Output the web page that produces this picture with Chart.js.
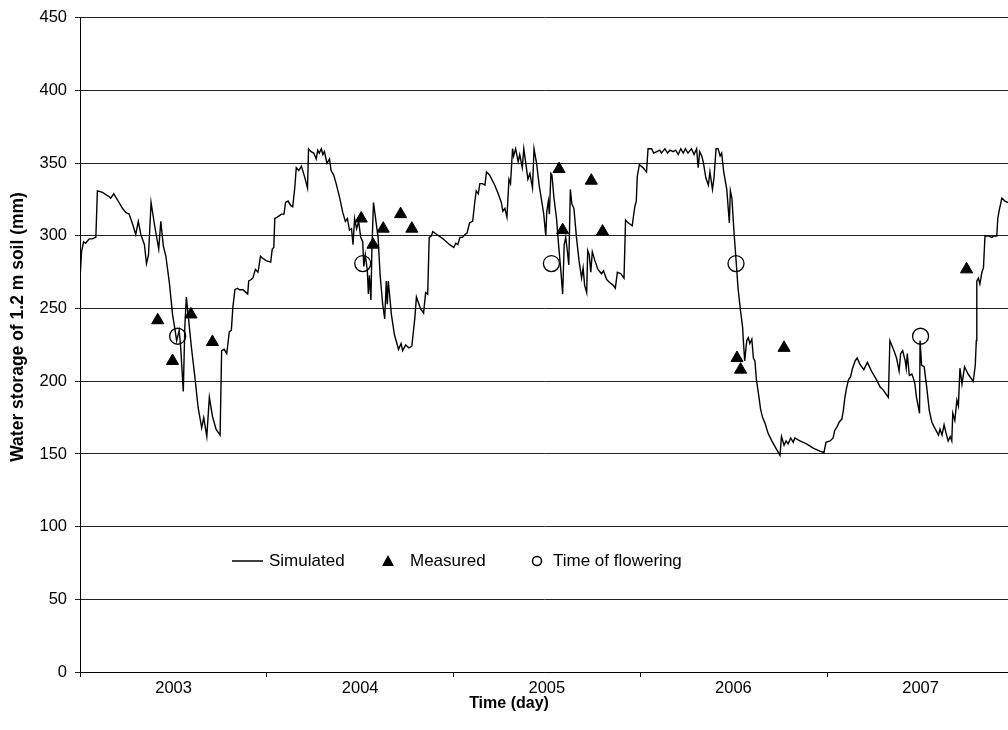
<!DOCTYPE html>
<html>
<head>
<meta charset="utf-8">
<script src="https://cdn.jsdelivr.net/npm/chart.js@4.4.0/dist/chart.umd.min.js"></script>
<style>
body { margin: 0; background: #fff; }
</style>
</head>
<body>
<canvas id="canvas" width="1008" height="730"></canvas>
<script>
// days counted from 1 Jan 2003
var yearLabels = ['2003', '2004', '2005', '2006', '2007'];
var yearStartDays = [0, 365, 731, 1096, 1461];
var yearMidDays = [183, 548, 913, 1278, 1644];

var simDay = [0,3,7,11,18,24,31,34,44,57,60,66,73,83,90,96,103,109,114,119,126,130,134,139,146,154,158,163,168,175,181,186,189,194,197,202,205,208,212,218,225,231,238,242,248,253,259,266,274,277,282,287,292,296,299,303,308,
  312,319,325,328,330,335,338,343,348,350,353,356,364,373,376,379,381,386,394,399,402,407,412,416,420,423,428,433,439,445,447,452,457,462,465,468,472,475,478,483,488,491,496,501,508,514,519,523,527,531,534,537,541,545,549,553,555,558,562,564,566,569,571,574,577,583,587,592,596,599,601,603,609,615,
  623,628,631,637,643,649,652,655,658,666,672,676,680,683,687,690,698,710,723,731,735,739,743,748,753,757,762,768,772,775,779,782,787,792,795,801,811,818,824,827,831,835,839,842,846,848,852,857,860,865,868,873,876,880,885,888,893,898,903,907,911,
  913,916,918,921,923,927,932,936,940,944,947,950,953,956,959,962,966,971,976,981,984,987,991,993,996,999,1002,1007,1013,1020,1024,1030,1036,1043,1047,1051,1058,1064,1067,1072,1080,1085,1088,1090,1094,1101,1108,
  1111,1118,1122,1128,1134,1137,1144,1149,1154,1160,1165,1170,1175,1180,1184,1189,1196,1201,1206,1209,1212,1216,1219,1224,1229,1232,1237,1240,1244,1248,1252,1255,1259,1265,1270,1272,1275,1279,1283,1287,1292,1296,1297,1300,1304,1307,1310,1314,1317,1320,1323,1328,1331,1335,1340,1346,1353,1361,1369,1372,1377,1381,1385,1390,1395,1398,1408,1421,1434,1447,1455,
  1459,1467,1473,1476,1481,1485,1490,1493,1496,1499,1503,1507,1511,1516,1520,1525,1533,1540,1548,1558,1565,1571,1581,1584,1592,1597,1602,1605,1609,1614,1616,1618,1622,1627,1630,1633,1636,1642,1643,1646,1651,1656,1661,1666,1670,1676,1679,1682,1686,1690,1694,1698,1702,1705,1707,1711,1715,1718,1721,1725,1730,1737,1747,1751,1753,1754,1757,1760,1764,1767,1770,1777,1783,1788,1793,1795,1798,1803,1809,1815];
var simValue = [270,289,296,295,298,298,299,331,330,327,326,329,325,319,316,315,308,301,310,301,294,281,287,323,307,291,310,293,286,267,246,235,228,235,223,193,237,258,244,223,202,182,168,175,162,189,176,167,163,221,222,219,234,235,251,263,264,
  263,263,261,260,269,270,271,277,275,279,286,285,283,282,291,292,312,313,315,315,323,324,321,320,333,347,345,348,341,333,360,358,357,353,359,357,360,356,358,350,353,345,342,336,326,316,310,312,304,305,294,312,305,310,299,296,279,287,276,260,273,256,292,323,315,299,273,253,243,269,253,269,246,232,
  222,226,221,225,223,224,234,244,258,250,247,261,260,299,300,303,301,298,294,292,295,294,299,299,301,302,309,310,323,331,329,336,336,335,344,342,335,329,323,317,319,313,339,336,360,355,360,351,356,347,360,347,339,343,333,360,350,335,324,315,300,
  317,324,315,343,342,326,312,294,278,260,294,299,290,280,332,322,319,299,283,271,278,266,261,290,287,275,289,283,277,274,276,270,268,266,264,275,274,271,311,309,307,320,324,341,349,347,344,
  360,360,357,358,359,357,360,357,359,358,359,356,360,357,360,357,360,356,360,347,358,355,351,340,335,344,332,340,360,360,355,357,344,332,309,331,326,303,284,264,248,237,230,214,228,230,226,229,216,214,201,189,181,175,171,164,159,154,149,162,156,159,157,161,158,161,159,157,154,152,151,
  158,159,161,166,169,172,174,180,189,195,201,203,209,214,216,212,208,213,207,201,196,194,189,228,221,216,207,219,221,214,209,219,204,205,202,198,189,178,228,211,210,196,180,172,169,165,163,167,163,170,164,159,162,159,178,173,187,183,209,198,210,205,200,211,228,269,271,267,275,278,300,300,299,300,300,312,318,326,324,323];

var measDay = [152, 181, 217, 259, 550, 573, 593, 627, 649, 937, 944, 1000, 1022, 1285, 1292, 1377, 1734];
var measValue = [242, 214, 246, 227, 312, 294, 305, 315, 305, 346, 304, 338, 303, 216, 208, 223, 277];

var flowerDay = [191, 553, 922, 1283, 1644];
var flowerValue = [231, 281, 281, 281, 231];

function pts(xs, ys) {
    return xs.map(function (x, i) { return {x: x, y: ys[i]}; });
}

var tickDays = yearStartDays.concat(yearMidDays).sort(function (a, b) { return a - b; });

var FONT = '"Liberation Sans", Arial, sans-serif';
Chart.defaults.font.family = FONT;
Chart.defaults.color = '#000';

// legend inside the plot and the two axis titles, placed as in the original figure
var legendPlugin = {
    id: 'inlineLegend',
    afterDraw: function (chart) {
        var c = chart.ctx, a = chart.chartArea;
        var y = a.bottom - 111;
        c.save();
        c.font = '17px ' + FONT;
        c.fillStyle = '#000';
        c.strokeStyle = '#000';
        c.textBaseline = 'middle';
        c.lineWidth = 1.5;
        c.beginPath();
        c.moveTo(a.left + 152, y);
        c.lineTo(a.left + 183, y);
        c.stroke();
        c.fillText('Simulated', a.left + 189, y);
        c.beginPath();
        c.moveTo(a.left + 308, y - 6);
        c.lineTo(a.left + 314, y + 5);
        c.lineTo(a.left + 302, y + 5);
        c.closePath();
        c.fill();
        c.fillText('Measured', a.left + 330, y);
        c.beginPath();
        c.arc(a.left + 457, y, 4.5, 0, Math.PI * 2);
        c.stroke();
        c.fillText('Time of flowering', a.left + 473, y);

        c.textAlign = 'center';
        c.font = 'bold 16px ' + FONT;
        c.fillText('Time (day)', a.left + 429, a.bottom + 32);
        c.translate(18, a.top + 309);
        c.rotate(-Math.PI / 2);
        c.font = 'bold 17.5px ' + FONT;
        c.fillText('Water storage of 1.2 m soil (mm)', 0, 0);
        c.restore();
    }
};

var ctx = document.getElementById('canvas').getContext('2d');
var myChart = new Chart(ctx, {
    type: 'scatter',
    data: {
        datasets: [{
            label: 'Simulated',
            data: pts(simDay, simValue),
            showLine: true,
            borderColor: '#000',
            borderWidth: 1.4,
            pointRadius: 0,
            tension: 0
        },
        {
            label: 'Measured',
            data: pts(measDay, measValue),
            pointStyle: 'triangle',
            pointRadius: 7,
            backgroundColor: '#000',
            borderColor: '#000',
            borderWidth: 1
        },
        {
            label: 'Time of flowering',
            data: pts(flowerDay, flowerValue),
            pointStyle: 'circle',
            pointRadius: 8,
            backgroundColor: 'rgba(0,0,0,0)',
            borderColor: '#000',
            borderWidth: 1.3
        }]
    },
    options: {
        responsive: false,
        animation: false,
        layout: { autoPadding: false, padding: { top: 15, right: 0, bottom: 0, left: 0 } },
        plugins: {
            legend: { display: false },
            tooltip: { enabled: false }
        },
        scales: {
            x: {
                type: 'linear',
                min: 0,
                max: 1815,
                afterBuildTicks: function (s) {
                    s.ticks = tickDays.map(function (v) { return {value: v}; });
                },
                afterFit: function (s) {
                    s.height = 58;
                    s.paddingRight = 0;
                    s.paddingLeft = 0;
                },
                ticks: {
                    autoSkip: false,
                    maxRotation: 0,
                    padding: 2,
                    font: { size: 16.5 },
                    callback: function (v) {
                        var i = yearMidDays.indexOf(v);
                        return i >= 0 ? yearLabels[i] : '';
                    }
                },
                grid: {
                    drawOnChartArea: false,
                    tickLength: 5,
                    tickColor: function (c) {
                        return (c.tick && yearStartDays.indexOf(c.tick.value) >= 0) ? '#000' : 'rgba(0,0,0,0)';
                    }
                },
                border: { color: '#000', width: 1 }
            },
            y: {
                min: 0,
                max: 450,
                afterFit: function (s) { s.width = 80; },
                ticks: { stepSize: 50, padding: 8, font: { size: 16.5 } },
                grid: { color: '#222', lineWidth: 1, tickLength: 5 },
                border: { color: '#000', width: 1 }
            }
        }
    },
    plugins: [legendPlugin]
});
</script>
</body>
</html>
